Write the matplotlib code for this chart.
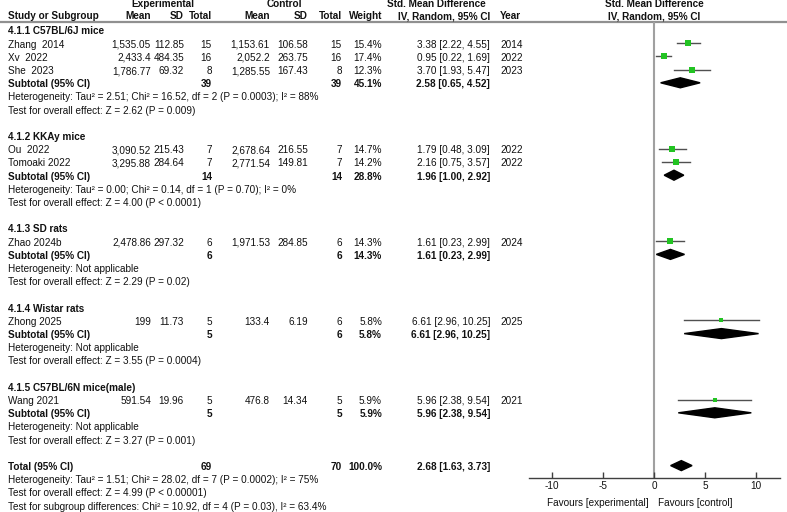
import numpy as np
import matplotlib.pyplot as plt
from matplotlib.patches import Polygon

plt.rcParams['font.family'] = ['Liberation Sans', 'DejaVu Sans']

# subgroups
groups = ["4.1.1 C57BL/6J mice", "4.1.2 KKAy mice", "4.1.3 SD rats",
          "4.1.4 Wistar rats", "4.1.5 C57BL/6N mice(male)"]

# individual studies
study_group = [0, 0, 0, 1, 1, 2, 3, 4]
study_names = ["Zhang  2014", "Xv  2022", "She  2023", "Ou  2022", "Tomoaki 2022",
               "Zhao 2024b", "Zhong 2025", "Wang 2021"]
exp_mean = ["1,535.05", "2,433.4", "1,786.77", "3,090.52", "3,295.88", "2,478.86", "199", "591.54"]
exp_sd = ["112.85", "484.35", "69.32", "215.43", "284.64", "297.32", "11.73", "19.96"]
exp_n = [15, 16, 8, 7, 7, 6, 5, 5]
ctl_mean = ["1,153.61", "2,052.2", "1,285.55", "2,678.64", "2,771.54", "1,971.53", "133.4", "476.8"]
ctl_sd = ["106.58", "263.75", "167.43", "216.55", "149.81", "284.85", "6.19", "14.34"]
ctl_n = [15, 16, 8, 7, 7, 6, 6, 5]
weights = [15.4, 17.4, 12.3, 14.7, 14.2, 14.3, 5.8, 5.9]
smd = [3.38, 0.95, 3.70, 1.79, 2.16, 1.61, 6.61, 5.96]
ci_lo = [2.22, 0.22, 1.93, 0.48, 0.75, 0.23, 2.96, 2.38]
ci_hi = [4.55, 1.69, 5.47, 3.09, 3.57, 2.99, 10.25, 9.54]
years = [2014, 2022, 2023, 2022, 2022, 2024, 2025, 2021]

# subgroup summaries
sub_weight = [45.1, 28.8, 14.3, 5.8, 5.9]
sub_smd = [2.58, 1.96, 1.61, 6.61, 5.96]
sub_lo = [0.65, 1.00, 0.23, 2.96, 2.38]
sub_hi = [4.52, 2.92, 2.99, 10.25, 9.54]
sub_het = ["Heterogeneity: Tau² = 2.51; Chi² = 16.52, df = 2 (P = 0.0003); I² = 88%",
           "Heterogeneity: Tau² = 0.00; Chi² = 0.14, df = 1 (P = 0.70); I² = 0%",
           "Heterogeneity: Not applicable",
           "Heterogeneity: Not applicable",
           "Heterogeneity: Not applicable"]
sub_test = ["Test for overall effect: Z = 2.62 (P = 0.009)",
            "Test for overall effect: Z = 4.00 (P < 0.0001)",
            "Test for overall effect: Z = 2.29 (P = 0.02)",
            "Test for overall effect: Z = 3.55 (P = 0.0004)",
            "Test for overall effect: Z = 3.27 (P = 0.001)"]

# overall
total_smd, total_lo, total_hi = 2.68, 1.63, 3.73
total_notes = ["Heterogeneity: Tau² = 1.51; Chi² = 28.02, df = 7 (P = 0.0002); I² = 75%",
               "Test for overall effect: Z = 4.99 (P < 0.00001)",
               "Test for subgroup differences: Chi² = 10.92, df = 4 (P = 0.03), I² = 63.4%"]

xticks = [-10, -5, 0, 5, 10]

W, H = 787, 512
fig = plt.figure(figsize=(W / 100, H / 100), dpi=100)
tax = fig.add_axes([0, 0, 1, 1])
tax.set_xlim(0, W)
tax.set_ylim(H, 0)
tax.axis('off')

ax_top, ax_bot, ax_left, ax_right = 22, 478, 529, 780
fax = fig.add_axes([ax_left / W, 1 - ax_bot / H, (ax_right - ax_left) / W, (ax_bot - ax_top) / H])
fax.set_ylim(ax_bot, ax_top)
# 0 at 654 px, 10 units = 102 px
fax.set_xlim((ax_left - 654) / 10.2, (ax_right - 654) / 10.2)

fs = 7.2
row0, dy = 31, 13.2
txt = '#111111'
green = '#22c322'
lcol = '#505050'

# column right edges
col_x = [151, 184, 212, 270, 308, 342, 382, 490]


def rowy(r):
    return row0 + dy * r


def put(x, r, s, ha='left', bold=False):
    # baseline placement keeps commas from shifting rows
    tax.text(x, rowy(r) + 3.5, s, ha=ha, va='baseline', fontsize=fs, color=txt,
             fontweight='bold' if bold else 'normal')


# headers
put(163, -2.05, "Experimental", ha='center', bold=True)
put(284, -2.05, "Control", ha='center', bold=True)
put(436, -2.05, "Std. Mean Difference", ha='center', bold=True)
put(654, -2.05, "Std. Mean Difference", ha='center', bold=True)
put(8, -1.15, "Study or Subgroup", bold=True)
for x, s in zip(col_x, ["Mean", "SD", "Total", "Mean", "SD", "Total", "Weight", "IV, Random, 95% CI"]):
    put(x, -1.15, s, ha='right', bold=True)
put(500, -1.15, "Year", bold=True)
put(654, -1.15, "IV, Random, 95% CI", ha='center', bold=True)
tax.plot([0, W], [22, 22], color='#909090', lw=1.6)

r = 0
for g, gname in enumerate(groups):
    put(8, r, gname, bold=True)
    r += 1
    idx = [i for i in range(len(study_names)) if study_group[i] == g]
    for i in idx:
        put(8, r, study_names[i])
        vals = [exp_mean[i], exp_sd[i], str(exp_n[i]), ctl_mean[i], ctl_sd[i], str(ctl_n[i]),
                f"{weights[i]:.1f}%", f"{smd[i]:.2f} [{ci_lo[i]:.2f}, {ci_hi[i]:.2f}]"]
        for x, s in zip(col_x, vals):
            put(x, r, s, ha='right')
        put(500, r, str(years[i]))
        y = rowy(r) - 1
        fax.plot([ci_lo[i], ci_hi[i]], [y, y], color=lcol, lw=1.0, zorder=2)
        fax.plot(smd[i], y, 's', color=green, ms=1.2 + weights[i] * 0.2, mew=0, zorder=3)
        r += 1
    put(8, r, "Subtotal (95% CI)", bold=True)
    put(col_x[2], r, str(sum(exp_n[i] for i in idx)), ha='right', bold=True)
    put(col_x[5], r, str(sum(ctl_n[i] for i in idx)), ha='right', bold=True)
    put(col_x[6], r, f"{sub_weight[g]:.1f}%", ha='right', bold=True)
    put(col_x[7], r, f"{sub_smd[g]:.2f} [{sub_lo[g]:.2f}, {sub_hi[g]:.2f}]", ha='right', bold=True)
    y = rowy(r) - 1
    fax.add_patch(Polygon([[sub_lo[g], y], [sub_smd[g], y - 5], [sub_hi[g], y], [sub_smd[g], y + 5]],
                          closed=True, color='black', zorder=3))
    r += 1
    put(8, r, sub_het[g])
    r += 1
    put(8, r, sub_test[g])
    r += 2

put(8, r, "Total (95% CI)", bold=True)
put(col_x[2], r, str(sum(exp_n)), ha='right', bold=True)
put(col_x[5], r, str(sum(ctl_n)), ha='right', bold=True)
put(col_x[6], r, "100.0%", ha='right', bold=True)
put(col_x[7], r, f"{total_smd:.2f} [{total_lo:.2f}, {total_hi:.2f}]", ha='right', bold=True)
y = rowy(r) - 1
fax.add_patch(Polygon([[total_lo, y], [total_smd, y - 5], [total_hi, y], [total_smd, y + 5]],
                      closed=True, color='black', zorder=3))
for k, s in enumerate(total_notes):
    put(8, r + 1 + k, s)

# forest axis
fax.axvline(0, color='#a0a0a0', lw=1.5, zorder=1)
for s in ['top', 'right', 'left']:
    fax.spines[s].set_visible(False)
fax.spines['bottom'].set_color('#404040')
fax.spines['bottom'].set_linewidth(1.0)
fax.set_yticks([])
fax.set_xticks(xticks)
fax.set_xticklabels([str(t) for t in xticks])
fax.tick_params(axis='x', direction='in', length=4, width=1, color='#404040',
                labelsize=fs, pad=2, labelcolor=txt)
fax.set_facecolor('none')
tax.text(649, 505.5, "Favours [experimental]", ha='right', va='baseline', fontsize=fs, color=txt)
tax.text(658, 505.5, "Favours [control]", ha='left', va='baseline', fontsize=fs, color=txt)

fig.savefig('out.png', dpi=100)
